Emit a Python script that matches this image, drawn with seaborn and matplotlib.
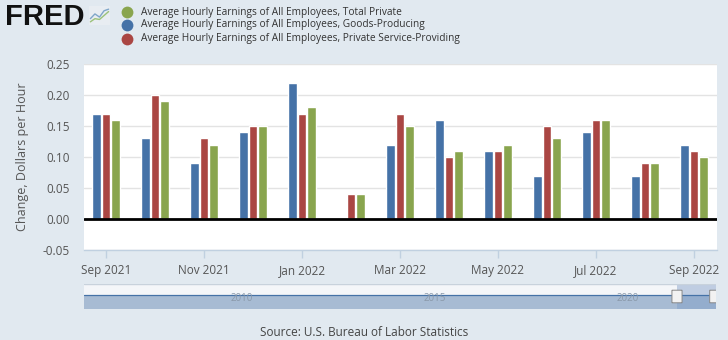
import matplotlib
matplotlib.use("Agg")
import matplotlib.pyplot as plt
from matplotlib.patches import Rectangle, FancyBboxPatch
from matplotlib.lines import Line2D
import seaborn as sns
import pandas as pd

# Monthly change in average hourly earnings, dollars per hour
months = ["Sep 2021", "Oct 2021", "Nov 2021", "Dec 2021", "Jan 2022", "Feb 2022",
          "Mar 2022", "Apr 2022", "May 2022", "Jun 2022", "Jul 2022", "Aug 2022",
          "Sep 2022"]
goods_producing = [0.17, 0.13, 0.09, 0.14, 0.22, 0.00, 0.12, 0.16, 0.11, 0.07, 0.14, 0.07, 0.12]
service_providing = [0.17, 0.20, 0.13, 0.15, 0.17, 0.04, 0.17, 0.10, 0.11, 0.15, 0.16, 0.09, 0.11]
total_private = [0.16, 0.19, 0.12, 0.15, 0.18, 0.04, 0.15, 0.11, 0.12, 0.13, 0.16, 0.09, 0.10]

name_total = "Average Hourly Earnings of All Employees, Total Private"
name_goods = "Average Hourly Earnings of All Employees, Goods-Producing"
name_serv = "Average Hourly Earnings of All Employees, Private Service-Providing"

y_ticks = [-0.05, 0.00, 0.05, 0.10, 0.15, 0.20, 0.25]
x_tick_labels = ["Sep 2021", "Nov 2021", "Jan 2022", "Mar 2022", "May 2022", "Jul 2022", "Sep 2022"]
nav_years = ["2010", "2015", "2020"]

colors = {name_goods: "#4572A7", name_serv: "#AA4643", name_total: "#89A54E"}

df = pd.DataFrame({
    "month": months * 3,
    "value": goods_producing + service_providing + total_private,
    "series": [name_goods] * len(months) + [name_serv] * len(months) + [name_total] * len(months),
})

sns.set_theme(style="white")
plt.rcParams["font.family"] = ["Open Sans", "DejaVu Sans"]

BG = "#E1E9F0"
fig = plt.figure(figsize=(7.28, 3.4), dpi=100, facecolor=BG)
ax = fig.add_axes([84 / 728, 1 - 250 / 340, (717 - 84) / 728, (250 - 64) / 340])
ax.set_facecolor("white")

sns.barplot(data=df, x="month", y="value", hue="series",
            hue_order=[name_goods, name_serv, name_total],
            palette=colors, width=0.57, gap=0.06, order=months,
            saturation=1, legend=False, ax=ax)

ax.set_ylim(-0.05, 0.25)
ax.set_xlim(-0.45, len(months) - 1 + 0.47)
ax.set_yticks(y_ticks)
ax.set_yticklabels([f"{v:.2f}" for v in y_ticks], color="#555555", fontsize=8.5)
ax.yaxis.grid(True, color="#E3E3E3", linewidth=1)
ax.set_axisbelow(True)
ax.axhline(0, color="black", linewidth=2, zorder=5)

pos = [months.index(m) for m in x_tick_labels]
ax.set_xticks(pos)
ax.set_xticklabels(x_tick_labels, color="#555555", fontsize=8.5)
ax.tick_params(axis="x", length=6, color="#C0D0E0", width=1, pad=4, direction="out", bottom=True)
ax.tick_params(axis="y", length=0, pad=10)
for side in ["top", "right", "left"]:
    ax.spines[side].set_visible(False)
ax.spines["bottom"].set_color("#C0D0E0")
ax.spines["bottom"].set_linewidth(1)
ax.set_xlabel("")
ax.set_ylabel("Change, Dollars per Hour", color="#555555", fontsize=9, labelpad=10)

# Header: logo and legend
fig.text(5 / 728, 1 - 25 / 340, "FRED", fontsize=21, fontweight="bold",
         family=["Liberation Sans", "DejaVu Sans"], color="#111111", va="baseline")
icon = fig.add_axes([89 / 728, 1 - 25 / 340, 21 / 728, 19 / 340])
icon.set_facecolor("#E8EDF2")
icon.set_xticks([]); icon.set_yticks([])
for s in icon.spines.values():
    s.set_visible(False)
icon.plot([0, 1, 2, 3, 4], [0.3, 0.6, 0.4, 0.8, 0.9], color="#7FA6C9", lw=1)
icon.plot([0, 1, 2, 3, 4], [0.1, 0.3, 0.25, 0.5, 0.75], color="#9BC27A", lw=1)
icon.set_xlim(-0.3, 4.3); icon.set_ylim(-0.1, 1.1)

legend_items = [(name_total, 12), (name_goods, 25), (name_serv, 39)]
for name, ypix in legend_items:
    fig.add_artist(Line2D([127 / 728], [1 - ypix / 340], marker="o", markersize=8.5,
                          markerfacecolor=colors[name], markeredgewidth=0,
                          linestyle="none", transform=fig.transFigure))
    fig.text(141 / 728, 1 - ypix / 340, name, fontsize=7.25, color="#333333", va="center")

# Range navigator strip
nav = fig.add_axes([84 / 728, 1 - 309 / 340, (716 - 84) / 728, (309 - 284) / 340])
nav.set_facecolor("#F4F6F9")
nav.set_xlim(0, 1); nav.set_ylim(0, 1)
nav.set_xticks([]); nav.set_yticks([])
for s in nav.spines.values():
    s.set_visible(False)
nav.axhline(1, color="#C8D2DC", lw=1)
nav.add_patch(Rectangle((0, 0), 1, 0.55, color="#A7BBD3", lw=0))
nav.axhline(0.55, color="#4572A7", lw=0.9)
for xf, yr in zip([0.25, 0.555, 0.86], nav_years):
    nav.text(xf, 0.42, yr, fontsize=7, color="#8A99AA", ha="center", va="center")
sel0 = (677 - 84) / (716 - 84)
nav.add_patch(Rectangle((sel0, 0), 1 - sel0, 1, color="#7F9CC7", alpha=0.45, lw=0))
for hx in [sel0, 0.998]:
    nav.add_patch(FancyBboxPatch((hx - 0.006, 0.25), 0.012, 0.5,
                                 boxstyle="round,pad=0.002", fc="#F2F2F2",
                                 ec="#888888", lw=0.7, zorder=6))

fig.text(0.5, 1 - 332 / 340, "Source: U.S. Bureau of Labor Statistics",
         fontsize=8.5, color="#444444", ha="center", va="center")

fig.savefig("out.png", dpi=100, facecolor=BG)
